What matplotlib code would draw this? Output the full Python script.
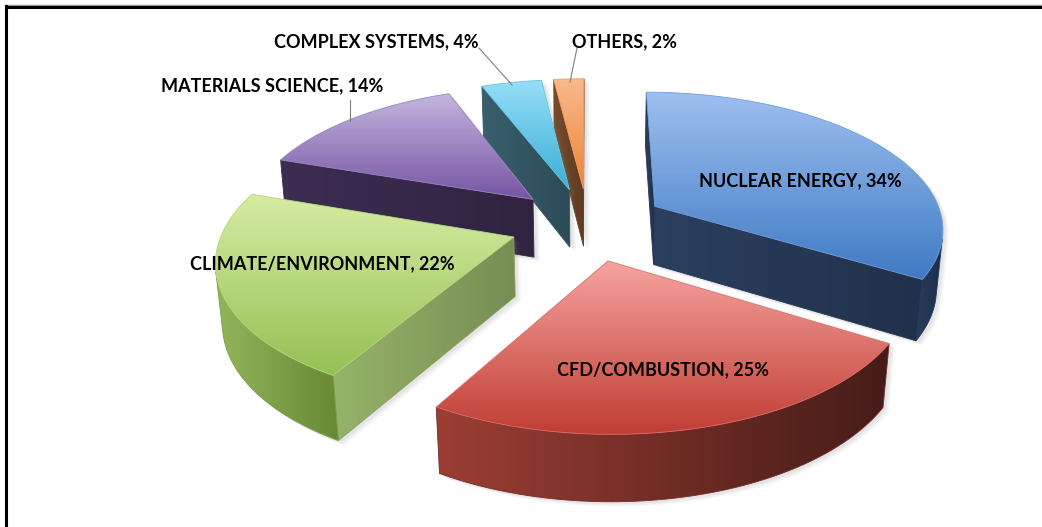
import numpy as np
import matplotlib.pyplot as plt
from matplotlib.patches import Polygon

# data
labels = ["NUCLEAR ENERGY", "CFD/COMBUSTION", "CLIMATE/ENVIRONMENT",
          "MATERIALS SCIENCE", "COMPLEX SYSTEMS", "OTHERS"]
shares = [34, 25, 22, 14, 4, 2]

# colours per slice: top light, top dark, wall light, wall dark, radial face
colours = [
    ((160, 192, 240), (62, 122, 196), (42, 62, 92), (26, 46, 76), (40, 58, 88)),
    ((246, 164, 160), (192, 62, 52), (156, 62, 52), (70, 28, 24), (150, 60, 50)),
    ((214, 236, 164), (150, 192, 84), (146, 182, 92), (104, 136, 52), (140, 166, 98)),
    ((196, 182, 222), (118, 84, 164), (62, 48, 82), (44, 30, 60), (56, 42, 76)),
    ((150, 222, 248), (58, 174, 212), (60, 96, 110), (24, 70, 84), (52, 88, 102)),
    ((250, 186, 140), (236, 132, 56), (120, 78, 46), (96, 56, 26), (110, 70, 40)),
]

# label text positions (pixels) and optional leader lines
label_pos = [(800, 181), (663, 370), (322, 264), (272, 86), (376, 42), (625, 42)]
leaders = [None, None, None,
           [(350, 100), (350, 121)],
           [(479, 48), (512, 85)],
           [(577, 48), (570, 82)]]

# view settings
EL = np.radians(28)
DIST = 6.0
FOCAL = 1735.0
CX, CY = 588, 224
THICK = 0.235
EXPLODE = 0.27
cam = np.array([0.0, -DIST * np.cos(EL), DIST * np.sin(EL)])


def project(p):
    p = np.atleast_2d(p)
    x, y, z = p[:, 0], p[:, 1], p[:, 2]
    w = DIST + y * np.cos(EL) - z * np.sin(EL)
    sx = FOCAL * x / w
    sy = FOCAL * (y * np.sin(EL) + z * np.cos(EL)) / w
    return np.column_stack([CX + sx, CY - sy])


def rgb(c):
    return np.array(c, dtype=float) / 255.0


def gradient_fill(ax, pts, c_from, c_to, vertical, z):
    poly = Polygon(pts, closed=True, facecolor='none', edgecolor='none', zorder=z)
    ax.add_patch(poly)
    x0, y0 = pts.min(axis=0)
    x1, y1 = pts.max(axis=0)
    t = np.linspace(0, 1, 256)[:, None]
    cols = (1 - t) * rgb(c_from) + t * rgb(c_to)
    img = cols[:, None, :] if vertical else cols[None, :, :]
    im = ax.imshow(img, extent=(x0, x1, y1, y0), origin='upper', aspect='auto',
                   interpolation='bilinear', zorder=z)
    im.set_clip_path(poly)
    mid = (rgb(c_from) + rgb(c_to)) / 2
    ax.add_patch(Polygon(pts, closed=True, facecolor='none', edgecolor=mid,
                         lw=0.6, zorder=z + 0.1))


def hull(points):
    pts = sorted(map(tuple, points))
    def cross(o, a, b):
        return (a[0] - o[0]) * (b[1] - o[1]) - (a[1] - o[1]) * (b[0] - o[0])
    lower, upper = [], []
    for p in pts:
        while len(lower) >= 2 and cross(lower[-2], lower[-1], p) <= 0:
            lower.pop()
        lower.append(p)
    for p in reversed(pts):
        while len(upper) >= 2 and cross(upper[-2], upper[-1], p) <= 0:
            upper.pop()
        upper.append(p)
    return np.array(lower[:-1] + upper[:-1])


fig = plt.figure(figsize=(10.42, 5.27), dpi=100)
ax = fig.add_axes([0, 0, 1, 1])
ax.set_axis_off()

fracs = np.array(shares, dtype=float) / sum(shares)
edges = np.concatenate([[0], np.cumsum(fracs)]) * 2 * np.pi

slices = []
for i in range(len(shares)):
    a0, a1 = edges[i], edges[i + 1]
    mid = (a0 + a1) / 2
    off = EXPLODE * np.array([np.sin(mid), np.cos(mid)])
    n = max(8, int((a1 - a0) / np.radians(1)))
    ang = np.linspace(a0, a1, n)
    arc = np.column_stack([off[0] + np.sin(ang), off[1] + np.cos(ang)])
    depth = np.cos(mid) * (EXPLODE + 0.6)
    slices.append((depth, i, a0, a1, ang, arc, off))

slices.sort(key=lambda s: -s[0])

z = 1
for depth, i, a0, a1, ang, arc, off in slices:
    tl, td, wl, wd, rc = colours[i]
    top3 = np.column_stack([arc, np.zeros(len(arc))])
    bot3 = np.column_stack([arc, np.full(len(arc), -THICK)])
    apex_t = np.array([off[0], off[1], 0.0])
    apex_b = np.array([off[0], off[1], -THICK])
    top2 = project(top3)
    bot2 = project(bot3)
    at2 = project(apex_t)[0]
    ab2 = project(apex_b)[0]

    # soft shadow
    sil = hull(np.vstack([top2, bot2, at2, ab2]))
    for k, a in ((6, 0.05), (4.5, 0.07), (3, 0.09)):
        ax.add_patch(Polygon(sil + [k, k * 0.8], closed=True, facecolor='#7a7a7a',
                             edgecolor='none', alpha=a, zorder=z))
    z += 1

    # radial faces
    faces = []
    n_start = np.array([-np.cos(a0), np.sin(a0), 0.0])
    n_end = np.array([np.cos(a1), -np.sin(a1), 0.0])
    if np.dot(n_start, cam - apex_t) > 0:
        faces.append(np.array([at2, top2[0], bot2[0], ab2]))
    if np.dot(n_end, cam - apex_t) > 0:
        faces.append(np.array([at2, top2[-1], bot2[-1], ab2]))
    for f in faces:
        lighter = tuple(min(255, c * 1.08) for c in rc)
        darker = tuple(c * 0.85 for c in rc)
        gradient_fill(ax, f, lighter, darker, False, z)
        z += 1

    # outer wall
    normals = np.column_stack([np.sin(ang), np.cos(ang), np.zeros(len(ang))])
    vis = np.einsum('ij,ij->i', normals, cam - top3) > 0
    idx = np.where(vis)[0]
    if len(idx) > 1:
        j0, j1 = idx.min(), idx.max() + 1
        wall = np.vstack([top2[j0:j1], bot2[j0:j1][::-1]])
        gradient_fill(ax, wall, wl, wd, False, z)
        z += 1

    # top face
    topface = np.vstack([at2, top2])
    gradient_fill(ax, topface, tl, td, True, z)
    z += 1

font = ['Lato', 'DejaVu Sans']
for i, lab in enumerate(labels):
    x, y = label_pos[i]
    ax.text(x, y, f"{lab}, {shares[i]}%", ha='center', va='center',
            fontsize=13, fontweight='bold', family=font, color='black', zorder=z + 5)
    if leaders[i] is not None:
        (x0, y0), (x1, y1) = leaders[i]
        ax.plot([x0, x1], [y0, y1], color='#7f7f7f', lw=0.8, zorder=z + 4)

# frame (cropped at right and bottom)
ax.plot([6, 1042], [5, 5], color='#9a9a9a', lw=1.0, zorder=z + 6)
ax.plot([6, 1042], [7, 7], color='black', lw=2.2, zorder=z + 6)
ax.plot([6, 6], [6, 527], color='black', lw=2.2, zorder=z + 6)

ax.set_xlim(0, 1042)
ax.set_ylim(527, 0)
fig.savefig('out.png', dpi=100)
